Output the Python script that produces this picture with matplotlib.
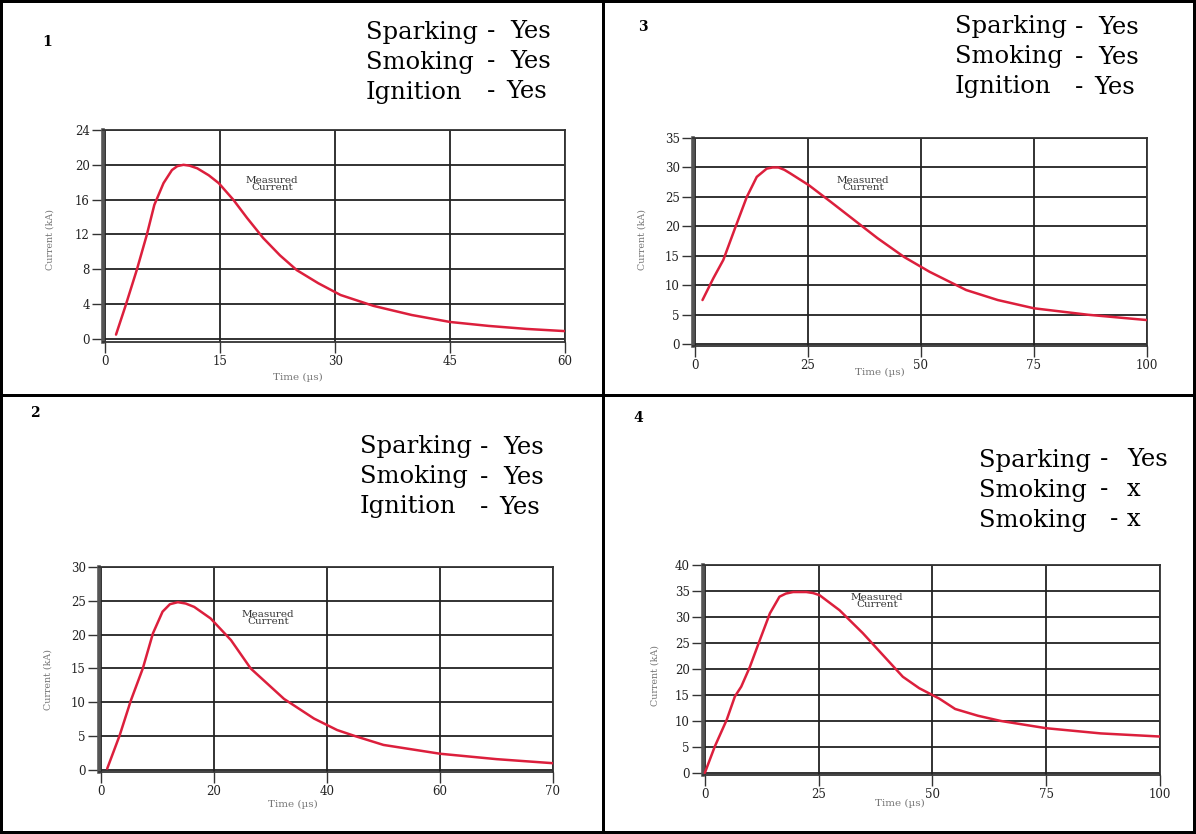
import matplotlib
matplotlib.use('Agg')
import matplotlib.pyplot as plt
from matplotlib.patches import Rectangle

W, H = 1196, 834

# panel 1 : time (us), current (kA)
t1 = [1.4, 2.6, 4.1, 5.4, 6.4, 7.6, 8.7, 9.4, 10.2, 11.0, 12.0, 13.5, 14.8, 16.7, 18.5, 20.6,
      22.8, 25.0, 27.8, 30.7, 35, 40, 45, 50, 55, 60]
i1 = [0.5, 3.7, 7.9, 11.9, 15.4, 17.9, 19.4, 19.85, 20.0, 19.9, 19.6, 18.8, 17.9, 16.0, 13.9, 11.6,
      9.6, 7.9, 6.4, 5.05, 3.8, 2.75, 1.95, 1.5, 1.15, 0.9]
# panel 2 (x axis is labelled 0..70 but graduated like 0..80)
t2 = [1.1, 3.3, 5.3, 7.4, 9.2, 10.9, 12.2, 13.6, 15.0, 16.5, 19.4, 23.0, 26.5, 32.4, 37.7, 41.8,
      45, 50, 60, 70, 80]
i2 = [0.2, 5.1, 10.3, 15.0, 20.2, 23.4, 24.5, 24.8, 24.6, 24.1, 22.4, 19.2, 15.0, 10.5, 7.6, 5.9,
      5.0, 3.7, 2.4, 1.6, 1.0]
# panel 3
t3 = [1.7, 4.1, 6.3, 8.9, 11.5, 13.7, 15.9, 17.2, 18.5, 19.8, 21.1, 25.2, 30.0, 35.2, 40.4, 46.3,
      51.9, 60, 67, 75, 87, 100]
i3 = [7.5, 11.2, 14.3, 19.7, 25.0, 28.4, 29.8, 30.0, 30.0, 29.6, 29.0, 27.0, 24.2, 21.1, 18.0, 14.8,
      12.3, 9.2, 7.5, 6.1, 5.0, 4.1]
# panel 4
t4 = [0, 2.2, 4.8, 6.6, 8.0, 9.9, 12.1, 14.3, 16.4, 17.8, 19.4, 22.3, 23.8, 25.2, 29.6, 34.7,
      39.1, 43.5, 47.1, 51.5, 55, 60, 65, 70, 75, 87, 100]
i4 = [0, 5.1, 10.2, 14.7, 16.6, 20.4, 25.6, 30.7, 33.9, 34.5, 34.8, 34.8, 34.6, 34.2, 31.3, 26.9,
      22.7, 18.5, 16.3, 14.3, 12.3, 11.0, 10.0, 9.3, 8.6, 7.6, 7.0]

status_yes = [('Sparking', '-', 'Yes'), ('Smoking', '-', 'Yes'), ('Ignition', '-', 'Yes')]
status_4 = [('Sparking', '-', 'Yes'), ('Smoking', '-', 'x'), ('Smoking', '-', 'x')]

panels = [
    dict(num='1', status=status_yes, t=t1, i=i1,
         xt=[0, 15, 30, 45, 60], xtl=['0', '15', '30', '45', '60'],
         yt=[0, 4, 8, 12, 16, 20, 24],
         box=(103, 565, 130, 342), xlim=(-0.3, 60), ylim=(-0.35, 24),
         num_xy=(47, 42), stat_y=32, stat_x=[(366, 487, 510), (366, 487, 510), (366, 487, 506)],
         meas=(272, 184), xlab=(298, 377), ylab=(50, 239)),
    dict(num='3', status=status_yes, t=t3, i=i3,
         xt=[0, 25, 50, 75, 100], xtl=['0', '25', '50', '75', '100'],
         yt=[0, 5, 10, 15, 20, 25, 30, 35],
         box=(693, 1147, 138, 346), xlim=(-0.4, 100), ylim=(-0.3, 35),
         num_xy=(643, 27), stat_y=27, stat_x=[(955, 1075, 1098), (955, 1075, 1098), (955, 1075, 1094)],
         meas=(863, 184), xlab=(880, 372), ylab=(642, 240)),
    dict(num='2', status=status_yes, t=t2, i=i2,
         xt=[0, 20, 40, 60, 80], xtl=['0', '20', '40', '60', '70'],
         yt=[0, 5, 10, 15, 20, 25, 30],
         box=(99, 553, 567, 772), xlim=(-0.35, 80), ylim=(-0.3, 30),
         num_xy=(35, 413), stat_y=447, stat_x=[(360, 480, 503), (360, 480, 503), (360, 480, 499)],
         meas=(268, 618), xlab=(293, 804), ylab=(48, 680)),
    dict(num='4', status=status_4, t=t4, i=i4,
         xt=[0, 25, 50, 75, 100], xtl=['0', '25', '50', '75', '100'],
         yt=[0, 5, 10, 15, 20, 25, 30, 35, 40],
         box=(703, 1160, 565, 775), xlim=(-0.4, 100), ylim=(-0.4, 40),
         num_xy=(638, 418), stat_y=460, stat_x=[(979, 1100, 1127), (979, 1100, 1127), (979, 1110, 1127)],
         meas=(877, 601), xlab=(900, 803), ylab=(655, 675)),
]

serif = ['DejaVu Serif']
fig = plt.figure(figsize=(W / 100, H / 100), dpi=100)
fig.patch.set_facecolor('white')


def fx(px):
    return px / W


def fy(py):
    return 1 - py / H


for p in panels:
    l, r, top, bot = p['box']
    ax = fig.add_axes([fx(l), fy(bot), (r - l) / W, (bot - top) / H])
    ax.plot(p['t'], p['i'], color='#dc1f3c', lw=1.8, zorder=3,
            solid_joinstyle='round', solid_capstyle='round')
    ax.set_xlim(*p['xlim'])
    ax.set_ylim(*p['ylim'])
    ax.set_xticks(p['xt'])
    ax.set_xticklabels(p['xtl'])
    ax.set_yticks(p['yt'])
    ax.grid(True, color='#222222', lw=1.3)
    for s in ax.spines.values():
        s.set_color('#333333')
        s.set_linewidth(1.3)
    ax.spines['left'].set_linewidth(2.6)
    ax.spines['left'].set_color('#555555')
    ax.tick_params(length=8, width=1, color='#333333', labelsize=8.5, pad=1.5)
    for lab in ax.get_xticklabels() + ax.get_yticklabels():
        lab.set_family(serif)
        lab.set_color('#222222')
    xx, xy = p['xlab']
    fig.text(fx(xx), fy(xy), 'Time (µs)', fontsize=7.5, family=serif, color='#777777',
             ha='center', va='center')
    yx, yy = p['ylab']
    fig.text(fx(yx), fy(yy), 'Current (kA)', fontsize=6.8, family=serif, color='#777777',
             ha='center', va='center', rotation=90)
    mx, my = p['meas']
    fig.text(fx(mx), fy(my), 'Measured\nCurrent', fontsize=7.5, family=serif,
             ha='center', va='center', linespacing=0.85, color='#333333')
    nx, ny = p['num_xy']
    fig.text(fx(nx), fy(ny), p['num'], fontsize=10, family=serif, weight='bold',
             ha='center', va='center')
    for k, (word, dash, val) in enumerate(p['status']):
        y = fy(p['stat_y'] + 30 * k)
        for s, x in zip((word, dash, val), p['stat_x'][k]):
            fig.text(fx(x), y, s, fontsize=17.5, family=serif,
                     ha='left', va='center', color='black')

# panel borders
bw = 3
for (x0, y0, w, h) in [(0, 0, W, bw), (0, H - bw, W, bw), (0, 0, bw, H), (W - bw, 0, bw, H),
                       (602, 0, bw, H), (0, 394, W, bw)]:
    fig.add_artist(Rectangle((fx(x0), fy(y0 + h)), w / W, h / H, transform=fig.transFigure,
                             facecolor='black', edgecolor='none'))

fig.savefig('out.png', dpi=100)
